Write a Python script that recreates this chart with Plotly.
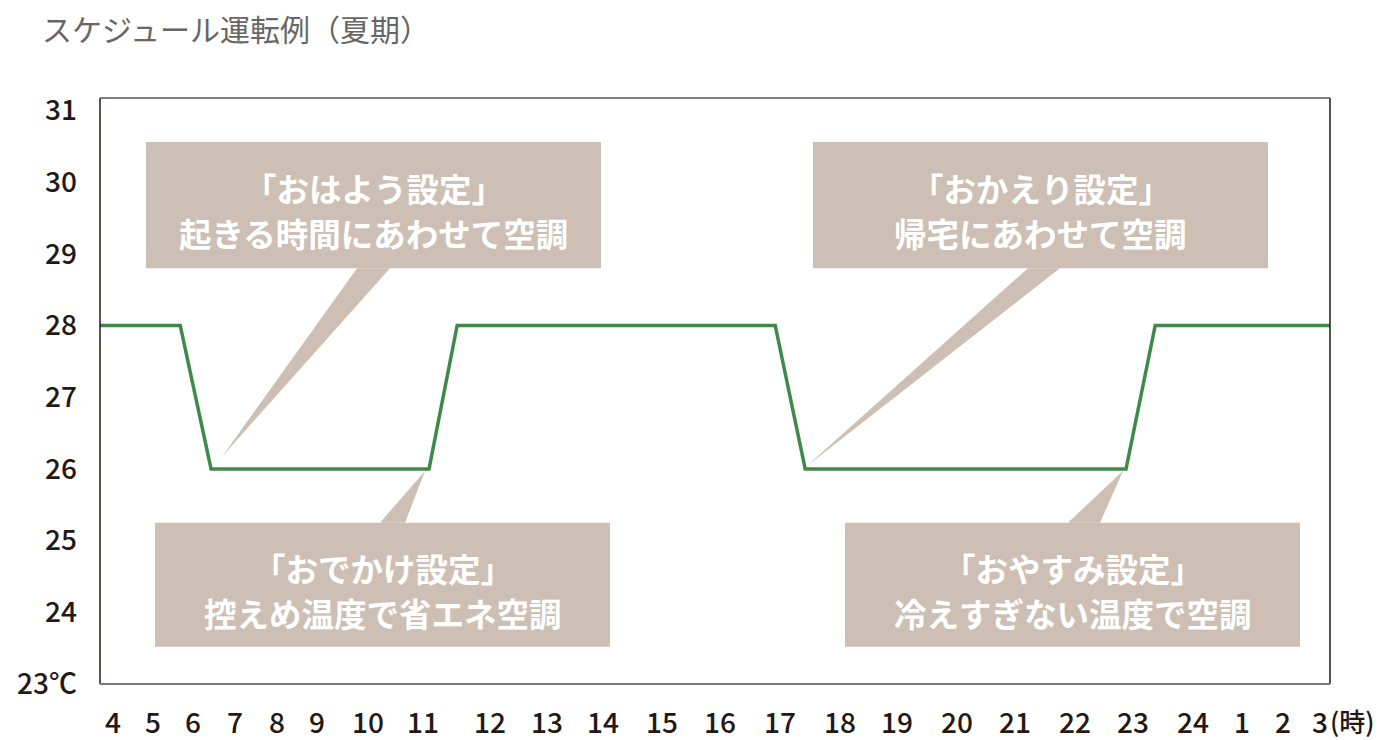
import numpy as np
import plotly.graph_objects as go

# ---------------- data ----------------
hour_ticks = list(range(4, 28))  # 4 ... 24, then 1, 2, 3 (next day = 25, 26, 27)
hour_labels = [str(h) for h in range(4, 25)] + ["1", "2", "3"]

line_hours = [3.5, 5.68, 6.43, 11.09, 11.51, 16.92, 17.42, 22.88, 23.37, 27.5]
line_temps = [28, 28, 26, 26, 28, 28, 26, 26, 28, 28]

temp_ticks = [23, 24, 25, 26, 27, 28, 29, 30, 31]
temp_labels = ["23℃", "24", "25", "26", "27", "28", "29", "30", "31"]

callout_titles = ["「おはよう設定」", "「おかえり設定」", "「おでかけ設定」", "「おやすみ設定」"]
callout_texts = ["起きる時間にあわせて空調", "帰宅にあわせて空調",
                 "控えめ温度で省エネ空調", "冷えすぎない温度で空調"]

title_text = "スケジュール運転例（夏期）"
unit_text = "(時)"

# ---------------- layout (non-uniform hour scale, as drawn) ----------------
tick_pos = [113, 153, 193, 235, 277, 317, 368, 423, 490, 547, 603, 662,
            720, 780, 840, 897, 957, 1015, 1075, 1133, 1193, 1242, 1283, 1320]
X_RANGE = [100, 1330]
PLOT_H = 586
Y_RANGE = [23, 23 + PLOT_H / 71.7]

# page has an 8px body margin -> compensate
OFF = 8
W, H = 1400 - OFF, 740 - OFF


def hour_to_pos(h):
    h = np.asarray(h, dtype=float)
    out = np.interp(h, hour_ticks, tick_pos)
    lo_slope = (tick_pos[1] - tick_pos[0]) / (hour_ticks[1] - hour_ticks[0])
    hi_slope = (tick_pos[-1] - tick_pos[-2]) / (hour_ticks[-1] - hour_ticks[-2])
    out = np.where(h < hour_ticks[0], tick_pos[0] + (h - hour_ticks[0]) * lo_slope, out)
    out = np.where(h > hour_ticks[-1], tick_pos[-1] + (h - hour_ticks[-1]) * hi_slope, out)
    return out


FONT = "Noto Sans CJK JP, Noto Sans, sans-serif"
TXT = "#231815"
BOX = "#cdbfb3"
GREEN = "#3f8a4b"

fig = go.Figure()
fig.add_trace(go.Scatter(
    x=hour_to_pos(line_hours), y=line_temps, mode="lines",
    line=dict(color=GREEN, width=3.5), hoverinfo="skip", showlegend=False))

# callout boxes: (x0, x1, y0, y1), pointer base (xa, xb), tip (xt, yt), text y
boxes = [
    dict(x0=146, x1=601, y0=28.80, y1=30.56, ya=28.80, xa=357, xb=390, xt=222, yt=26.17, ty1=29.93, ty2=29.30),
    dict(x0=813, x1=1268, y0=28.80, y1=30.56, ya=28.80, xa=1028, xb=1060, xt=806, yt=26.03, ty1=29.93, ty2=29.30),
    dict(x0=155, x1=610, y0=23.52, y1=25.25, ya=25.25, xa=380, xb=405, xt=425, yt=25.97, ty1=24.62, ty2=24.00),
    dict(x0=845, x1=1300, y0=23.52, y1=25.25, ya=25.25, xa=1068, xb=1100, xt=1123, yt=25.97, ty1=24.62, ty2=24.00),
]

shapes = []
annotations = []
for b, t1, t2 in zip(boxes, callout_titles, callout_texts):
    shapes.append(dict(type="rect", xref="x", yref="y", x0=b["x0"], x1=b["x1"], y0=b["y0"], y1=b["y1"],
                       fillcolor=BOX, line=dict(width=0), layer="below"))
    shapes.append(dict(type="path", xref="x", yref="y",
                       path=f"M {b['xa']},{b['ya']} L {b['xb']},{b['ya']} L {b['xt']},{b['yt']} Z",
                       fillcolor=BOX, line=dict(width=0), layer="below"))
    cx = (b["x0"] + b["x1"]) / 2
    for txt, ty in ((t1, b["ty1"]), (t2, b["ty2"])):
        annotations.append(dict(x=cx, y=ty, xref="x", yref="y", text=txt, showarrow=False,
                                xanchor="center", yanchor="middle",
                                font=dict(family=FONT, size=32.5, color="white", weight="bold")))

# plot frame
shapes += [
    dict(type="line", xref="paper", yref="paper", x0=0, x1=0, y0=0, y1=1, line=dict(color=TXT, width=1.5)),
    dict(type="line", xref="paper", yref="paper", x0=1, x1=1, y0=0, y1=1, line=dict(color=TXT, width=1.5)),
    dict(type="line", xref="paper", yref="paper", x0=0, x1=1, y0=1, y1=1, line=dict(color="#555555", width=1.5)),
    dict(type="line", xref="paper", yref="paper", x0=0, x1=1, y0=0, y1=0, line=dict(color="#7a7a7a", width=2)),
]

annotations.append(dict(x=tick_pos[-1] + 8, y=-36 / PLOT_H, xref="x", yref="paper", text=unit_text,
                        showarrow=False, xanchor="left", yanchor="middle",
                        font=dict(family=FONT, size=26, color=TXT, weight=500)))

# chart title (as an annotation above the plot area)
annotations.append(dict(x=(40 - 100) / (X_RANGE[1] - X_RANGE[0]), y=1 + (98 - 28) / PLOT_H,
                        xref="paper", yref="paper", text=title_text, showarrow=False,
                        xanchor="left", yanchor="middle",
                        font=dict(family=FONT, size=30, color="#666666")))

fig.update_layout(
    width=W, height=H,
    margin=dict(l=100 - OFF, r=70, t=98 - OFF, b=56, autoexpand=False),
    paper_bgcolor="white", plot_bgcolor="white",
    xaxis=dict(range=X_RANGE, tickmode="array", tickvals=tick_pos, ticktext=hour_labels,
               showgrid=False, zeroline=False, showline=False, ticks="", automargin=False,
               ticklabelstandoff=20, tickfont=dict(family=FONT, size=28, color=TXT, weight=500)),
    yaxis=dict(range=Y_RANGE, tickmode="array", tickvals=temp_ticks, ticktext=temp_labels,
               showgrid=False, zeroline=False, showline=False, ticks="", automargin=False,
               ticklabelstandoff=22, tickfont=dict(family=FONT, size=28, color=TXT, weight=500)),
    shapes=shapes, annotations=annotations, showlegend=False,
)

fig.write_html("out.html")
